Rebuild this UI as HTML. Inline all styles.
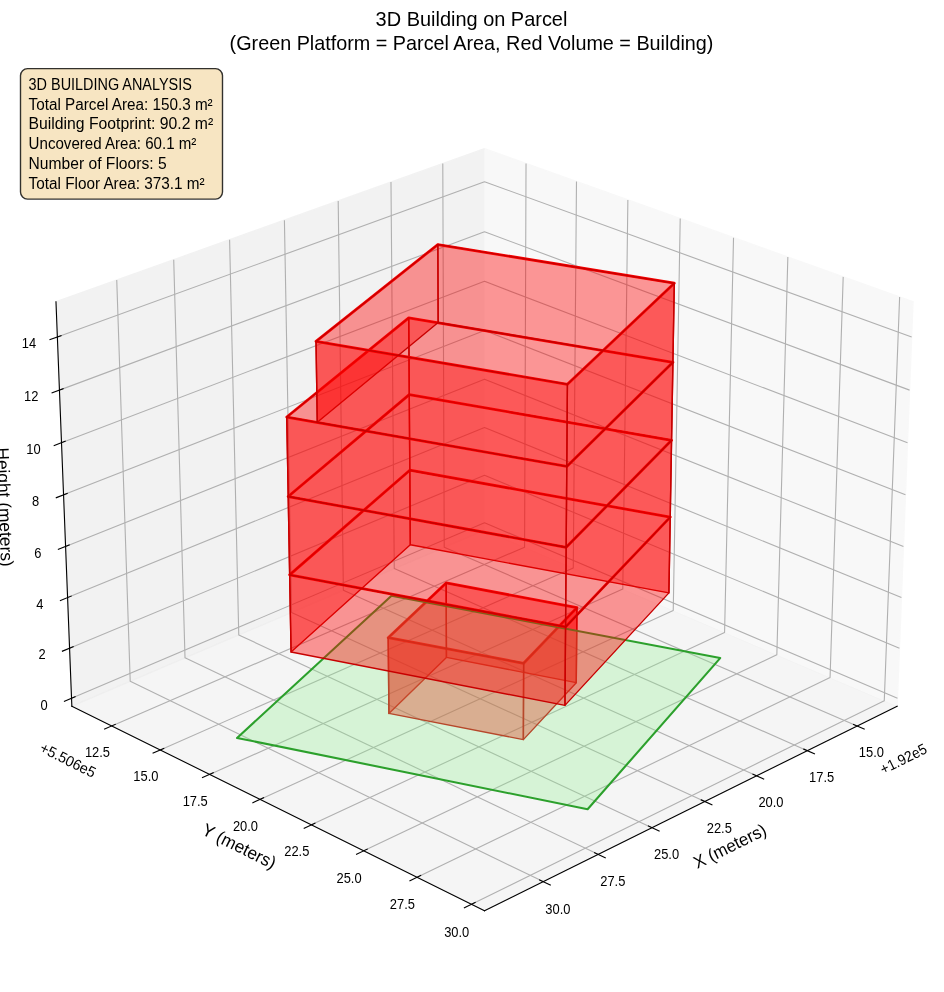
<!DOCTYPE html>
<html><head><meta charset="utf-8"><title>3D Building on Parcel</title>
<style>html,body{margin:0;padding:0;background:#fff;}svg{display:block;will-change:transform;}text{font-family:'Liberation Sans', sans-serif;fill:#000;}</style>
</head><body>
<svg width="944" height="992" viewBox="0 0 944 992">
<g transform="translate(-142.9794 -85.7235) scale(1.388889)">

<defs>
<style type="text/css">*{stroke-linejoin: round; stroke-linecap: butt}</style>
</defs>
<g id="figure_1">
<g id="patch_1">
<path d="M 0 864
L 864 864
L 864 0
L 0 0
z
" style="fill: #ffffff"/>
</g>
<g id="patch_2">
<path d="M 110.16 768.96
L 775.44 768.96
L 775.44 103.68
L 110.16 103.68
z
" style="fill: #ffffff"/>
</g>
<g id="pane3d_1">
<g id="patch_3">
<path d="M 451.79027 443.368424
L 748.902828 570.134589
L 760.329594 279.032684
L 451.79027 168.745698
" style="fill: #f2f2f2; opacity: 0.5; stroke: #f2f2f2; stroke-linejoin: miter"/>
</g>
</g>
<g id="pane3d_2">
<g id="patch_4">
<path d="M 451.79027 443.368424
L 154.677712 570.134589
L 143.250947 279.032684
L 451.79027 168.745698
" style="fill: #e6e6e6; opacity: 0.5; stroke: #e6e6e6; stroke-linejoin: miter"/>
</g>
</g>
<g id="pane3d_3">
<g id="patch_5">
<path d="M 451.79027 443.368424
L 154.677712 570.134589
L 451.79027 717.421782
L 748.902828 570.134589
" style="fill: #ececec; opacity: 0.5; stroke: #ececec; stroke-linejoin: miter"/>
</g>
</g>
<g id="grid3d_1">
<g id="Line3DCollection_1">
<path d="M 720.052171 584.436685
L 422.792813 455.740491
L 421.750217 179.483476
" style="fill: none; stroke: #b0b0b0; stroke-width: 0.8"/>
<path d="M 684.205799 602.206757
L 386.808227 471.093689
L 384.450017 192.816385
" style="fill: none; stroke: #b0b0b0; stroke-width: 0.8"/>
<path d="M 647.657981 620.324556
L 350.169801 486.725855
L 346.447244 206.400428
" style="fill: none; stroke: #b0b0b0; stroke-width: 0.8"/>
<path d="M 610.387926 638.800388
L 312.859552 502.644661
L 307.721861 220.242766
" style="fill: none; stroke: #b0b0b0; stroke-width: 0.8"/>
<path d="M 572.374012 657.644972
L 274.858829 518.858065
L 268.25306 234.350839
" style="fill: none; stroke: #b0b0b0; stroke-width: 0.8"/>
<path d="M 533.593744 676.86946
L 236.148287 535.37432
L 228.019225 248.732371
" style="fill: none; stroke: #b0b0b0; stroke-width: 0.8"/>
<path d="M 494.023711 696.485457
L 196.70785 552.201993
L 186.997896 263.395393
" style="fill: none; stroke: #b0b0b0; stroke-width: 0.8"/>
</g>
</g>
<g id="grid3d_2">
<g id="Line3DCollection_2">
<path d="M 481.684271 179.43127
L 480.646781 455.680355
L 183.38806 584.36713
" style="fill: none; stroke: #b0b0b0; stroke-width: 0.8"/>
<path d="M 518.01554 192.417836
L 515.696994 470.634893
L 218.302846 601.675388
" style="fill: none; stroke: #b0b0b0; stroke-width: 0.8"/>
<path d="M 555.013216 205.642607
L 551.367409 485.854046
L 253.882949 619.313462
" style="fill: none; stroke: #b0b0b0; stroke-width: 0.8"/>
<path d="M 592.695803 219.1122
L 587.674633 501.344901
L 290.147567 637.290871
" style="fill: none; stroke: #b0b0b0; stroke-width: 0.8"/>
<path d="M 631.082498 232.833475
L 624.635873 517.114799
L 327.116647 655.617501
" style="fill: none; stroke: #b0b0b0; stroke-width: 0.8"/>
<path d="M 670.193222 246.813553
L 662.268962 533.171348
L 364.810918 674.303629
" style="fill: none; stroke: #b0b0b0; stroke-width: 0.8"/>
<path d="M 710.048655 261.059827
L 700.592386 549.522436
L 403.251927 693.359937
" style="fill: none; stroke: #b0b0b0; stroke-width: 0.8"/>
<path d="M 750.67027 275.579971
L 739.625316 566.176242
L 442.462089 712.797535
" style="fill: none; stroke: #b0b0b0; stroke-width: 0.8"/>
</g>
</g>
<g id="grid3d_3">
<g id="Line3DCollection_3">
<path d="M 154.457478 564.524015
L 451.79027 438.061555
L 749.123063 564.524015
" style="fill: none; stroke: #b0b0b0; stroke-width: 0.8"/>
<path d="M 153.040208 528.418437
L 451.79027 403.923514
L 750.540333 528.418437
" style="fill: none; stroke: #b0b0b0; stroke-width: 0.8"/>
<path d="M 151.609362 491.967008
L 451.79027 369.481467
L 751.971179 491.967008
" style="fill: none; stroke: #b0b0b0; stroke-width: 0.8"/>
<path d="M 150.164744 455.164734
L 451.79027 334.731336
L 753.415796 455.164734
" style="fill: none; stroke: #b0b0b0; stroke-width: 0.8"/>
<path d="M 148.706155 418.006527
L 451.79027 299.668969
L 754.874386 418.006527
" style="fill: none; stroke: #b0b0b0; stroke-width: 0.8"/>
<path d="M 147.23339 380.487197
L 451.79027 264.290137
L 756.34715 380.487197
" style="fill: none; stroke: #b0b0b0; stroke-width: 0.8"/>
<path d="M 145.746243 342.601454
L 451.79027 228.590538
L 757.834298 342.601454
" style="fill: none; stroke: #b0b0b0; stroke-width: 0.8"/>
<path d="M 144.2445 304.343904
L 451.79027 192.565789
L 759.33604 304.343904
" style="fill: none; stroke: #b0b0b0; stroke-width: 0.8"/>
</g>
</g>
<g id="axis3d_1">
<g id="line2d_1">
<path d="M 748.902828 570.134589
L 451.79027 717.421782
" style="fill: none; stroke: #000000; stroke-width: 0.8; stroke-linecap: square"/>
</g>
<g id="xtick_1">
<g id="line2d_2">
<path d="M 717.49617 583.330084
L 725.173443 586.653901
" style="fill: none; stroke: #000000; stroke-width: 0.8; stroke-linecap: square"/>
</g>
</g>
<g id="xtick_2">
<g id="line2d_3">
<path d="M 681.646886 601.078614
L 689.332995 604.467174
" style="fill: none; stroke: #000000; stroke-width: 0.8; stroke-linecap: square"/>
</g>
</g>
<g id="xtick_3">
<g id="line2d_4">
<path d="M 645.096531 619.174236
L 652.790354 622.629448
" style="fill: none; stroke: #000000; stroke-width: 0.8; stroke-linecap: square"/>
</g>
</g>
<g id="xtick_4">
<g id="line2d_5">
<path d="M 607.824337 637.627231
L 615.524679 641.151082
" style="fill: none; stroke: #000000; stroke-width: 0.8; stroke-linecap: square"/>
</g>
</g>
<g id="xtick_5">
<g id="line2d_6">
<path d="M 569.808708 656.448292
L 577.514297 660.042847
" style="fill: none; stroke: #000000; stroke-width: 0.8; stroke-linecap: square"/>
</g>
</g>
<g id="xtick_6">
<g id="line2d_7">
<path d="M 531.027176 675.648541
L 538.736659 679.315951
" style="fill: none; stroke: #000000; stroke-width: 0.8; stroke-linecap: square"/>
</g>
</g>
<g id="xtick_7">
<g id="line2d_8">
<path d="M 491.456359 695.239555
L 499.168297 698.982057
" style="fill: none; stroke: #000000; stroke-width: 0.8; stroke-linecap: square"/>
</g>
</g>
</g>
<g id="axis3d_2">
<g id="line2d_9">
<path d="M 154.677712 570.134589
L 451.79027 717.421782
" style="fill: none; stroke: #000000; stroke-width: 0.8; stroke-linecap: square"/>
</g>
<g id="xtick_8">
<g id="line2d_10">
<path d="M 185.944049 583.260612
L 178.266813 586.584177
" style="fill: none; stroke: #000000; stroke-width: 0.8; stroke-linecap: square"/>
</g>
</g>
<g id="xtick_9">
<g id="line2d_11">
<path d="M 220.861678 600.547892
L 213.175815 603.934507
" style="fill: none; stroke: #000000; stroke-width: 0.8; stroke-linecap: square"/>
</g>
</g>
<g id="xtick_10">
<g id="line2d_12">
<path d="M 256.444269 618.164386
L 248.750841 621.615861
" style="fill: none; stroke: #000000; stroke-width: 0.8; stroke-linecap: square"/>
</g>
</g>
<g id="xtick_11">
<g id="line2d_13">
<path d="M 292.710999 636.119588
L 285.011138 639.637806
" style="fill: none; stroke: #000000; stroke-width: 0.8; stroke-linecap: square"/>
</g>
</g>
<g id="xtick_12">
<g id="line2d_14">
<path d="M 329.68179 654.423363
L 321.976697 658.010277
" style="fill: none; stroke: #000000; stroke-width: 0.8; stroke-linecap: square"/>
</g>
</g>
<g id="xtick_13">
<g id="line2d_15">
<path d="M 367.377345 673.085959
L 359.668297 676.743603
" style="fill: none; stroke: #000000; stroke-width: 0.8; stroke-linecap: square"/>
</g>
</g>
<g id="xtick_14">
<g id="line2d_16">
<path d="M 405.819189 692.118033
L 398.10754 695.848518
" style="fill: none; stroke: #000000; stroke-width: 0.8; stroke-linecap: square"/>
</g>
</g>
<g id="xtick_15">
<g id="line2d_17">
<path d="M 445.029704 711.530666
L 437.316893 715.336191
" style="fill: none; stroke: #000000; stroke-width: 0.8; stroke-linecap: square"/>
</g>
</g>
</g>
<g id="axis3d_3">
<g id="line2d_18">
<path d="M 154.677712 570.134589
L 143.250947 279.032684
" style="fill: none; stroke: #000000; stroke-width: 0.8; stroke-linecap: square"/>
</g>
<g id="xtick_16">
<g id="line2d_19">
<path d="M 157.012854 563.437155
L 149.337523 566.701649
" style="fill: none; stroke: #000000; stroke-width: 0.8; stroke-linecap: square"/>
</g>
</g>
<g id="xtick_17">
<g id="line2d_20">
<path d="M 155.60861 527.348134
L 147.89411 530.562915
" style="fill: none; stroke: #000000; stroke-width: 0.8; stroke-linecap: square"/>
</g>
</g>
<g id="xtick_18">
<g id="line2d_21">
<path d="M 154.190923 490.91363
L 146.436853 494.077593
" style="fill: none; stroke: #000000; stroke-width: 0.8; stroke-linecap: square"/>
</g>
</g>
<g id="xtick_19">
<g id="line2d_22">
<path d="M 152.7596 454.128657
L 144.965553 457.240674
" style="fill: none; stroke: #000000; stroke-width: 0.8; stroke-linecap: square"/>
</g>
</g>
<g id="xtick_20">
<g id="line2d_23">
<path d="M 151.314442 416.988135
L 143.480006 420.047049
" style="fill: none; stroke: #000000; stroke-width: 0.8; stroke-linecap: square"/>
</g>
</g>
<g id="xtick_21">
<g id="line2d_24">
<path d="M 149.855248 379.486884
L 141.980004 382.491512
" style="fill: none; stroke: #000000; stroke-width: 0.8; stroke-linecap: square"/>
</g>
</g>
<g id="xtick_22">
<g id="line2d_25">
<path d="M 148.381812 341.619623
L 140.465335 344.568756
" style="fill: none; stroke: #000000; stroke-width: 0.8; stroke-linecap: square"/>
</g>
</g>
<g id="xtick_23">
<g id="line2d_26">
<path d="M 146.893925 303.380966
L 138.935783 306.273368
" style="fill: none; stroke: #000000; stroke-width: 0.8; stroke-linecap: square"/>
</g>
</g>
</g>
<g id="axes_1">
<g id="Poly3DCollection_1">
<defs>
<path id="md4fc897339" d="M 424.184888 -382.53625
L 382.45324 -343.150443
L 479.966698 -324.716814
L 518.33162 -364.790297
z
" style="stroke: #ff0000; stroke-width: 2"/>
</defs>
<g clip-path="url(#p07d18715e9)">
<use href="#md4fc897339" x="0" y="864" style="fill: #ff0000; fill-opacity: 0; stroke: #ff0000; stroke-width: 2"/>
</g>
</g>
<g id="Poly3DCollection_2">
<path d="M 517.861058 553.23768
L 424.378138 535.071538
L 424.184888 481.46375
L 518.33162 499.209703
z
" clip-path="url(#p07d18715e9)" style="fill: #ff0000; fill-opacity: 0.4; stroke: #c80000"/>
<path d="M 424.378138 535.071538
L 382.949597 575.386395
L 382.45324 520.849557
L 424.184888 481.46375
z
" clip-path="url(#p07d18715e9)" style="fill: #ff0000; fill-opacity: 0.4; stroke: #c80000"/>
<path d="M 479.762909 594.250435
L 517.861058 553.23768
L 518.33162 499.209703
L 479.966698 539.283186
z
" clip-path="url(#p07d18715e9)" style="fill: #ff0000; fill-opacity: 0.4; stroke: #c80000"/>
<path d="M 382.949597 575.386395
L 479.762909 594.250435
L 479.966698 539.283186
L 382.45324 520.849557
z
" clip-path="url(#p07d18715e9)" style="fill: #ff0000; fill-opacity: 0.4; stroke: #c80000"/>
</g>
<g id="Poly3DCollection_3">
<defs>
<path id="m81b825073e" d="M 384.824407 -373.409683
L 273.617995 -270.950579
L 526.015906 -219.621682
L 621.474828 -328.449824
z
" style="stroke: #2ca02c; stroke-width: 1.5"/>
</defs>
<g clip-path="url(#p07d18715e9)">
<use href="#m81b825073e" x="0" y="864" style="fill: #90ee90; fill-opacity: 0.3; stroke: #2ca02c; stroke-width: 1.5"/>
</g>
</g>
<g id="Poly3DCollection_4">
<defs>
<path id="m9aae583b2c" d="M 397.996233 -463.719139
L 311.494596 -388.389451
L 510.146428 -350.90102
L 585.510314 -429.945504
z
" style="stroke: #ff0000; stroke-width: 2"/>
</defs>
<g clip-path="url(#p07d18715e9)">
<use href="#m9aae583b2c" x="0" y="864" style="fill: #ff0000; fill-opacity: 0; stroke: #ff0000; stroke-width: 2"/>
</g>
</g>
<g id="Poly3DCollection_5">
<path d="M 584.563726 488.598319
L 398.369448 453.972435
L 397.996233 400.280861
L 585.510314 434.054496
z
" clip-path="url(#p07d18715e9)" style="fill: #ff0000; fill-opacity: 0.4; stroke: #c80000"/>
<path d="M 398.369448 453.972435
L 312.512067 531.189514
L 311.494596 475.610549
L 397.996233 400.280861
z
" clip-path="url(#p07d18715e9)" style="fill: #ff0000; fill-opacity: 0.4; stroke: #c80000"/>
<path d="M 509.714081 569.598998
L 584.563726 488.598319
L 585.510314 434.054496
L 510.146428 513.09898
z
" clip-path="url(#p07d18715e9)" style="fill: #ff0000; fill-opacity: 0.4; stroke: #c80000"/>
<path d="M 312.512067 531.189514
L 509.714081 569.598998
L 510.146428 513.09898
L 311.494596 475.610549
z
" clip-path="url(#p07d18715e9)" style="fill: #ff0000; fill-opacity: 0.4; stroke: #c80000"/>
</g>
<g id="Poly3DCollection_6">
<defs>
<path id="m629e23c064" d="M 397.617766 -518.166204
L 310.46215 -444.786435
L 510.585277 -408.250819
L 586.470495 -485.272635
z
" style="stroke: #ff0000; stroke-width: 2"/>
</defs>
<g clip-path="url(#p07d18715e9)">
<use href="#m629e23c064" x="0" y="864" style="fill: #ff0000; fill-opacity: 0; stroke: #ff0000; stroke-width: 2"/>
</g>
</g>
<g id="Poly3DCollection_7">
<path d="M 585.510314 434.054496
L 397.996233 400.280861
L 397.617766 345.833796
L 586.470495 378.727365
z
" clip-path="url(#p07d18715e9)" style="fill: #ff0000; fill-opacity: 0.4; stroke: #c80000"/>
<path d="M 397.996233 400.280861
L 311.494596 475.610549
L 310.46215 419.213565
L 397.617766 345.833796
z
" clip-path="url(#p07d18715e9)" style="fill: #ff0000; fill-opacity: 0.4; stroke: #c80000"/>
<path d="M 510.146428 513.09898
L 585.510314 434.054496
L 586.470495 378.727365
L 510.585277 455.749181
z
" clip-path="url(#p07d18715e9)" style="fill: #ff0000; fill-opacity: 0.4; stroke: #c80000"/>
<path d="M 311.494596 475.610549
L 510.146428 513.09898
L 510.585277 455.749181
L 310.46215 419.213565
z
" clip-path="url(#p07d18715e9)" style="fill: #ff0000; fill-opacity: 0.4; stroke: #c80000"/>
</g>
<g id="Poly3DCollection_8">
<defs>
<path id="md420e15aa5" d="M 397.233936 -573.38482
L 309.414396 -502.019632
L 511.030777 -466.469718
L 587.444566 -541.40007
z
" style="stroke: #ff0000; stroke-width: 2"/>
</defs>
<g clip-path="url(#p07d18715e9)">
<use href="#md420e15aa5" x="0" y="864" style="fill: #ff0000; fill-opacity: 0; stroke: #ff0000; stroke-width: 2"/>
</g>
</g>
<g id="Poly3DCollection_9">
<path d="M 586.470495 378.727365
L 397.617766 345.833796
L 397.233936 290.61518
L 587.444566 322.59993
z
" clip-path="url(#p07d18715e9)" style="fill: #ff0000; fill-opacity: 0.4; stroke: #c80000"/>
<path d="M 397.617766 345.833796
L 310.46215 419.213565
L 309.414396 361.980368
L 397.233936 290.61518
z
" clip-path="url(#p07d18715e9)" style="fill: #ff0000; fill-opacity: 0.4; stroke: #c80000"/>
<path d="M 510.585277 455.749181
L 586.470495 378.727365
L 587.444566 322.59993
L 511.030777 397.530282
z
" clip-path="url(#p07d18715e9)" style="fill: #ff0000; fill-opacity: 0.4; stroke: #c80000"/>
<path d="M 310.46215 419.213565
L 510.585277 455.749181
L 511.030777 397.530282
L 309.414396 361.980368
z
" clip-path="url(#p07d18715e9)" style="fill: #ff0000; fill-opacity: 0.4; stroke: #c80000"/>
</g>
<g id="Poly3DCollection_10">
<defs>
<path id="m801e33f925" d="M 418.186298 -626.210835
L 330.482673 -556.486838
L 511.48308 -525.577622
L 588.432829 -598.345299
z
" style="stroke: #ff0000; stroke-width: 2"/>
</defs>
<g clip-path="url(#p07d18715e9)">
<use href="#m801e33f925" x="0" y="864" style="fill: #ff0000; fill-opacity: 0; stroke: #ff0000; stroke-width: 2"/>
</g>
</g>
<g id="Poly3DCollection_11">
<path d="M 587.444566 322.59993
L 418.4249 293.892438
L 418.186298 237.789165
L 588.432829 265.654701
z
" clip-path="url(#p07d18715e9)" style="fill: #ff0000; fill-opacity: 0.4; stroke: #c80000"/>
<path d="M 418.4249 293.892438
L 331.384083 365.708794
L 330.482673 307.513162
L 418.186298 237.789165
z
" clip-path="url(#p07d18715e9)" style="fill: #ff0000; fill-opacity: 0.4; stroke: #c80000"/>
<path d="M 511.030777 397.530282
L 587.444566 322.59993
L 588.432829 265.654701
L 511.48308 338.422378
z
" clip-path="url(#p07d18715e9)" style="fill: #ff0000; fill-opacity: 0.4; stroke: #c80000"/>
<path d="M 331.384083 365.708794
L 511.030777 397.530282
L 511.48308 338.422378
L 330.482673 307.513162
z
" clip-path="url(#p07d18715e9)" style="fill: #ff0000; fill-opacity: 0.4; stroke: #c80000"/>
</g>
</g>
</g>
<defs>
<clipPath id="p07d18715e9">
<rect x="110.16" y="103.68" width="665.28" height="665.28"/>
</clipPath>
</defs>

</g>
<text x="871.39" y="756.65" font-size="14.2" text-anchor="middle" textLength="25.11" lengthAdjust="spacingAndGlyphs">15.0</text>
<text x="821.67" y="781.55" font-size="14.2" text-anchor="middle" textLength="25.11" lengthAdjust="spacingAndGlyphs">17.5</text>
<text x="770.99" y="806.94" font-size="14.2" text-anchor="middle" textLength="25.11" lengthAdjust="spacingAndGlyphs">20.0</text>
<text x="719.30" y="832.83" font-size="14.2" text-anchor="middle" textLength="25.11" lengthAdjust="spacingAndGlyphs">22.5</text>
<text x="666.58" y="859.24" font-size="14.2" text-anchor="middle" textLength="25.11" lengthAdjust="spacingAndGlyphs">25.0</text>
<text x="612.79" y="886.18" font-size="14.2" text-anchor="middle" textLength="25.11" lengthAdjust="spacingAndGlyphs">27.5</text>
<text x="557.91" y="913.67" font-size="14.2" text-anchor="middle" textLength="25.11" lengthAdjust="spacingAndGlyphs">30.0</text>
<text x="732.53" y="851.58" font-size="17.6" text-anchor="middle" transform="rotate(-26.37 732.53 851.58)" textLength="78.87" lengthAdjust="spacingAndGlyphs">X (meters)</text>
<text x="928.22" y="752.34" font-size="15.0" text-anchor="end" transform="rotate(-26.37 928.22 752.34)" textLength="50.27" lengthAdjust="spacingAndGlyphs">+1.92e5</text>
<text x="97.43" y="756.55" font-size="14.2" text-anchor="middle" textLength="25.11" lengthAdjust="spacingAndGlyphs">12.5</text>
<text x="145.85" y="780.80" font-size="14.2" text-anchor="middle" textLength="25.11" lengthAdjust="spacingAndGlyphs">15.0</text>
<text x="195.20" y="805.52" font-size="14.2" text-anchor="middle" textLength="25.11" lengthAdjust="spacingAndGlyphs">17.5</text>
<text x="245.49" y="830.71" font-size="14.2" text-anchor="middle" textLength="25.11" lengthAdjust="spacingAndGlyphs">20.0</text>
<text x="296.76" y="856.39" font-size="14.2" text-anchor="middle" textLength="25.11" lengthAdjust="spacingAndGlyphs">22.5</text>
<text x="349.04" y="882.58" font-size="14.2" text-anchor="middle" textLength="25.11" lengthAdjust="spacingAndGlyphs">25.0</text>
<text x="402.36" y="909.29" font-size="14.2" text-anchor="middle" textLength="25.11" lengthAdjust="spacingAndGlyphs">27.5</text>
<text x="456.74" y="936.53" font-size="14.2" text-anchor="middle" textLength="25.11" lengthAdjust="spacingAndGlyphs">30.0</text>
<text x="236.48" y="851.58" font-size="17.6" text-anchor="middle" transform="rotate(-333.63 236.48 851.58)" textLength="79.96" lengthAdjust="spacingAndGlyphs">Y (meters)</text>
<text x="38.82" y="751.36" font-size="15.0" text-anchor="start" transform="rotate(-333.63 38.82 751.36)" textLength="60.04" lengthAdjust="spacingAndGlyphs">+5.506e5</text>
<text x="44.13" y="709.59" font-size="14.2" text-anchor="middle" textLength="7.17" lengthAdjust="spacingAndGlyphs">0</text>
<text x="42.03" y="659.44" font-size="14.2" text-anchor="middle" textLength="7.17" lengthAdjust="spacingAndGlyphs">2</text>
<text x="39.91" y="608.81" font-size="14.2" text-anchor="middle" textLength="7.17" lengthAdjust="spacingAndGlyphs">4</text>
<text x="37.78" y="557.70" font-size="14.2" text-anchor="middle" textLength="7.17" lengthAdjust="spacingAndGlyphs">6</text>
<text x="35.62" y="506.09" font-size="14.2" text-anchor="middle" textLength="7.17" lengthAdjust="spacingAndGlyphs">8</text>
<text x="33.43" y="453.98" font-size="14.2" text-anchor="middle" textLength="14.35" lengthAdjust="spacingAndGlyphs">10</text>
<text x="31.23" y="401.36" font-size="14.2" text-anchor="middle" textLength="14.35" lengthAdjust="spacingAndGlyphs">12</text>
<text x="29.01" y="348.23" font-size="14.2" text-anchor="middle" textLength="14.35" lengthAdjust="spacingAndGlyphs">14</text>
<text x="-1.20" y="507.22" font-size="17.6" text-anchor="middle" transform="rotate(-272.25 -1.20 507.22)" textLength="119.21" lengthAdjust="spacingAndGlyphs">Height (meters)</text>
<g id="title">
<text x="471.5" y="25.6" font-size="21" text-anchor="middle" textLength="191.8" lengthAdjust="spacingAndGlyphs">3D Building on Parcel</text>
<text x="471.5" y="49.6" font-size="21" text-anchor="middle" textLength="483.8" lengthAdjust="spacingAndGlyphs">(Green Platform = Parcel Area, Red Volume = Building)</text>
</g>
<g id="statbox">
<rect x="20.5" y="68.6" width="202" height="130.5" rx="7" ry="7" fill="#f5deb3" fill-opacity="0.8" stroke="#000" stroke-opacity="0.8" stroke-width="1.39"/>
<text x="28.6" y="89.6" font-size="16.0" textLength="163.2" lengthAdjust="spacingAndGlyphs">3D BUILDING ANALYSIS</text>
<text x="28.6" y="109.6" font-size="16.0" textLength="184.1" lengthAdjust="spacingAndGlyphs">Total Parcel Area: 150.3 m²</text>
<text x="28.6" y="129.2" font-size="16.0" textLength="184.6" lengthAdjust="spacingAndGlyphs">Building Footprint: 90.2 m²</text>
<text x="28.6" y="149.3" font-size="16.0" textLength="167.8" lengthAdjust="spacingAndGlyphs">Uncovered Area: 60.1 m²</text>
<text x="28.6" y="169.1" font-size="16.0" textLength="138.0" lengthAdjust="spacingAndGlyphs">Number of Floors: 5</text>
<text x="28.6" y="188.6" font-size="16.0" textLength="176.0" lengthAdjust="spacingAndGlyphs">Total Floor Area: 373.1 m²</text>
</g>
</svg>
</body></html>
